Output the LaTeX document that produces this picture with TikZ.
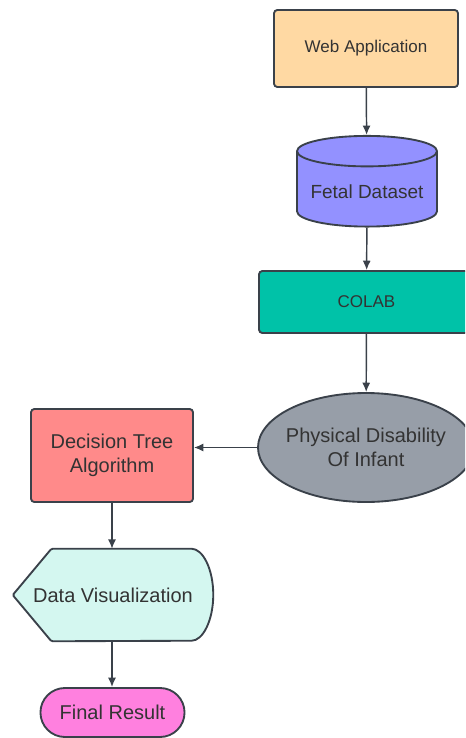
\documentclass[tikz,border=0pt]{standalone}
\usepackage{fontspec}
\setmainfont{Liberation Sans}
\usetikzlibrary{arrows.meta,shapes.geometric,shapes.misc}
\definecolor{ink}{HTML}{3A414A}
\definecolor{txt}{HTML}{333333}
\definecolor{webc}{HTML}{FFD9A3}
\definecolor{datac}{HTML}{9391FF}
\definecolor{colabc}{HTML}{00C2A8}
\definecolor{physc}{HTML}{979EA8}
\definecolor{treec}{HTML}{FF8A8A}
\definecolor{visc}{HTML}{D4F7F0}
\definecolor{finalc}{HTML}{FF80DF}

\begin{document}
\begin{tikzpicture}[x=0.75pt,y=-0.75pt,every node/.style={font=\fontsize{15pt}{18pt}\selectfont,align=center,text=txt},
box/.style={draw=ink,line width=1.4pt,rounded corners=2.5pt,inner sep=2pt},
arr/.style={-{Latex[length=7pt,width=6pt]},ink,line width=1.1pt}]
\clip (0,0) rectangle (465,738);
\node[box,fill=webc,minimum width=138pt,minimum height=57.75pt,font=\fontsize{12.75pt}{15pt}\selectfont] (web) at (366,48.5) {Web Application};
\node[cylinder,shape border rotate=90,draw=ink,line width=1.4pt,fill=datac,aspect=0.25,minimum width=105pt,minimum height=68pt,font=\fontsize{14.25pt}{17pt}\selectfont] (data) at (367,192) {Fetal Dataset};
\node[box,fill=colabc,minimum width=161.25pt,minimum height=46.5pt,font=\fontsize{12.75pt}{15pt}\selectfont] (colab) at (366.5,302) {COLAB};
\node[ellipse,draw=ink,line width=1.4pt,fill=physc,minimum width=162pt,minimum height=81.75pt,inner sep=0pt] (phys) at (366,447.5) {};
\node at (phys) {Physical Disability\\Of Infant};
\node[box,fill=treec,minimum width=121.5pt,minimum height=69.75pt] (tree) at (112,455.5) {Decision Tree\\Algorithm};
\node[minimum width=150pt,minimum height=69pt,inner sep=0pt] (vis) at (113,595) {};
\draw[ink,line width=1.4pt,fill=visc,rounded corners=1pt] (vis.west) -- ([xshift=29pt]vis.north west) -- ([xshift=-17.25pt]vis.north east) arc[start angle=90,end angle=-90,x radius=17.25pt,y radius=34.5pt] -- ([xshift=29pt]vis.south west) -- cycle;
\node at (vis) {Data Visualization};
\node[rounded rectangle,draw=ink,line width=1.4pt,fill=finalc,minimum width=114.75pt,minimum height=36.75pt] (final) at (112.5,712.5) {Final Result};
\draw[arr] (web)--(data);\draw[arr] (data)--(colab);\draw[arr] (colab)--(phys);
\draw[arr] (phys.west)--(phys.west -| tree.east);
\draw[arr] (tree.south)--(vis.north -| tree.south);\draw[arr] (vis.south -| tree.south)--(final.north -| tree.south);
\end{tikzpicture}
\end{document}
